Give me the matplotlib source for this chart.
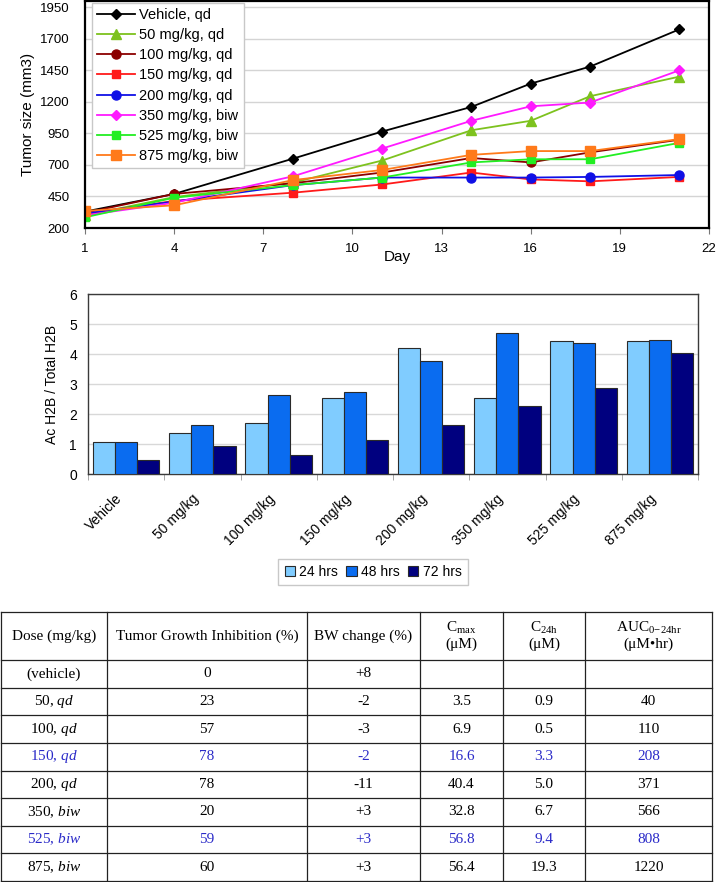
import matplotlib
matplotlib.use('Agg')
import matplotlib.pyplot as plt
import matplotlib.transforms as mtransforms
import numpy as np
from matplotlib.patches import Patch

plt.rcParams['font.family'] = ['Liberation Sans', 'DejaVu Sans']
plt.rcParams['mathtext.fontset'] = 'custom'
plt.rcParams['mathtext.rm'] = 'Liberation Serif'
plt.rcParams['mathtext.it'] = 'Liberation Serif:italic'

# ---------------- data: tumor growth ----------------
days = [1, 4, 8, 11, 14, 16, 18, 21]
vehicle = [330, 470, 750, 965, 1160, 1345, 1480, 1775]
mg50 = [300, 445, 560, 735, 975, 1050, 1245, 1400]
mg100 = [320, 470, 555, 640, 755, 720, 800, 900]
mg150 = [310, 415, 480, 545, 640, 585, 570, 605]
mg200 = [315, 410, 540, 600, 600, 600, 605, 620]
mg350 = [300, 400, 610, 830, 1050, 1165, 1195, 1450]
mg525 = [285, 440, 540, 600, 720, 745, 745, 875]
mg875 = [335, 380, 580, 660, 780, 810, 810, 905]
line_labels = ['Vehicle, qd', '50 mg/kg, qd', '100 mg/kg, qd', '150 mg/kg, qd',
               '200 mg/kg, qd', '350 mg/kg, biw', '525 mg/kg, biw', '875 mg/kg, biw']

# ---------------- data: acetylation ----------------
bar_categories = ['Vehicle', '50 mg/kg', '100 mg/kg', '150 mg/kg',
                  '200 mg/kg', '350 mg/kg', '525 mg/kg', '875 mg/kg']
h24 = [1.08, 1.36, 1.70, 2.53, 4.20, 2.53, 4.43, 4.43]
h48 = [1.08, 1.62, 2.63, 2.75, 3.77, 4.70, 4.37, 4.47]
h72 = [0.48, 0.93, 0.62, 1.13, 1.62, 2.27, 2.87, 4.03]
bar_labels = ['24 hrs', '48 hrs', '72 hrs']

# ---------------- data: table ----------------
dose_values = ['(vehicle)', '50', '100', '150', '200', '350', '525', '875']
schedules = ['', 'qd', 'qd', 'qd', 'qd', 'biw', 'biw', 'biw']
tgi = ['0', '23', '57', '78', '78', '20', '59', '60']
bw_change = ['+8', '-2', '-3', '-2', '-11', '+3', '+3', '+3']
cmax = ['', '3.5', '6.9', '16.6', '40.4', '32.8', '56.8', '56.4']
c24h = ['', '0.9', '0.5', '3.3', '5.0', '6.7', '9.4', '19.3']
auc = ['', '40', '110', '208', '371', '566', '808', '1220']
highlight = [False, False, False, True, False, False, True, False]

W, H = 717, 882
fig = plt.figure(figsize=(W / 100, H / 100), dpi=100)


def rect(l, t, r, b):
    return [l / W, 1 - b / H, (r - l) / W, (b - t) / H]


# ================= line chart =================
ax1 = fig.add_axes(rect(85, 1, 709, 228))
series = [vehicle, mg50, mg100, mg150, mg200, mg350, mg525, mg875]
colors = ['#000000', '#7DC21E', '#8B0000', '#FF1A1A', '#1010E6', '#FF1AFF', '#22EE22', '#FF7A1A']
markers = ['D', '^', 'o', 's', 'o', 'D', 's', 's']
msizes = [5.5, 7, 6.5, 6, 6.5, 5.5, 6, 7]
for vals, lab, c, m, ms in zip(series, line_labels, colors, markers, msizes):
    ax1.plot(days, vals, color=c, marker=m, ms=ms, mfc=c, mec=c, lw=1.3, label=lab)
ax1.set_xlim(1, 22)
ax1.set_ylim(200, 2000)
ax1.set_xticks(range(1, 23, 3))
ax1.set_yticks(range(200, 1951, 250))
ax1.grid(axis='y', color='#d4d4d4', lw=1)
ax1.set_axisbelow(True)
for s in ax1.spines.values():
    s.set_linewidth(1.6)
    s.set_color('black')
ax1.tick_params(axis='x', length=4, pad=7, labelsize=9.5, color='#777777')
ax1.tick_params(axis='y', length=0, pad=11, labelsize=9.5)
ax1.set_ylabel('Tumor size (mm3)', fontsize=11)
ax1.yaxis.set_label_coords(-0.080, 0.5)
ax1.set_xlabel('Day', fontsize=11)
ax1.xaxis.set_label_coords(0.5, -0.095)
leg = ax1.legend(loc='upper left', bbox_to_anchor=(7 / 624, 1 - 2 / 227), borderaxespad=0,
                 fontsize=10.5, frameon=True, fancybox=False, edgecolor='#c8c8c8',
                 framealpha=1, handlelength=2.6, handletextpad=0.3, labelspacing=0.42,
                 borderpad=0.35)
leg.get_frame().set_linewidth(1)

# ================= bar chart =================
ax2 = fig.add_axes(rect(88, 294, 698, 474))
x = np.arange(len(bar_categories))
w = 0.29
bar_colors = ['#80CCFF', '#0A6CF0', '#00007F']
for off, vals, c, lab in zip([-w, 0, w], [h24, h48, h72], bar_colors, bar_labels):
    ax2.bar(x + off, vals, w, color=c, edgecolor='#2a2a2a', lw=0.8, label=lab, zorder=3)
ax2.set_xlim(-0.5, len(bar_categories) - 0.5)
ax2.set_ylim(0, 6)
ax2.set_yticks(range(0, 7))
ax2.grid(axis='y', color='#d8d8d8', lw=1, zorder=0)
ax2.set_axisbelow(True)
ax2.set_xticks(x)
ax2.set_xticks(np.arange(-0.5, len(bar_categories)), minor=True)
ax2.tick_params(axis='x', which='major', length=0, pad=10, labelsize=10)
ax2.tick_params(axis='x', which='minor', length=4, color='#999999')
ax2.tick_params(axis='y', length=0, pad=8, labelsize=10)
ax2.set_xticklabels(bar_categories, rotation=45, ha='right', va='top', rotation_mode='anchor')
shift = mtransforms.ScaledTranslation(-11 / 100, -4 / 100, fig.dpi_scale_trans)
for lbl in ax2.get_xticklabels():
    lbl.set_transform(lbl.get_transform() + shift)
for s in ax2.spines.values():
    s.set_linewidth(1.0)
    s.set_color('#3a3a3a')
ax2.set_ylabel('Ac H2B / Total H2B', fontsize=10)
ax2.yaxis.set_label_coords(-0.048, 0.5)
handles = [Patch(facecolor=c, edgecolor='#2a2a2a', lw=0.8) for c in bar_colors]
leg2 = fig.legend(handles, bar_labels, loc='center', bbox_to_anchor=(373 / W, 1 - 572 / H),
                  ncol=3, fontsize=10, handlelength=0.75, handleheight=0.75,
                  handletextpad=0.3, columnspacing=0.6, fancybox=False,
                  edgecolor='#c8c8c8', borderpad=0.45, framealpha=1)
leg2.get_frame().set_linewidth(1)

# ================= table =================
tax = fig.add_axes([0, 0, 1, 1])
tax.set_xlim(0, W)
tax.set_ylim(H, 0)
tax.axis('off')
col_edges = [1, 107, 307, 420, 503, 585, 712]
top, head_bot, bottom = 612, 660, 881
nrows = len(dose_values)
row_h = (bottom - head_bot) / nrows
lc = '#222222'
for cx in col_edges:
    tax.plot([cx, cx], [top, bottom], color=lc, lw=0.9)
for ry in [top, head_bot] + [head_bot + row_h * (i + 1) for i in range(nrows)]:
    tax.plot([col_edges[0], col_edges[-1]], [ry, ry], color=lc, lw=0.9)

centers = [(col_edges[i] + col_edges[i + 1]) / 2 for i in range(len(col_edges) - 1)]
serif = 'Liberation Serif'
fs = 11
hy = (top + head_bot) / 2
tax.text(centers[0], hy, 'Dose (mg/kg)', ha='center', va='center', family=serif, fontsize=fs)
tax.text(centers[1], hy, 'Tumor Growth Inhibition (%)', ha='center', va='center', family=serif, fontsize=fs)
tax.text(centers[2], hy, 'BW change (%)', ha='center', va='center', family=serif, fontsize=fs)
head1 = [r'C$_{\mathrm{max}}$', r'C$_{\mathrm{24h}}$', r'AUC$_{\mathrm{0\!-\!24hr}}$']
head2 = ['(\u03bcM)', '(\u03bcM)', '(\u03bcM\u2022hr)']
for i, (a, b) in enumerate(zip(head1, head2)):
    tax.text(centers[3 + i], hy - 8, a, ha='center', va='center', family=serif, fontsize=fs)
    tax.text(centers[3 + i], hy + 8, b, ha='center', va='center', family=serif, fontsize=fs)

for r in range(nrows):
    cy = head_bot + row_h * (r + 0.5)
    color = '#2a2ac8' if highlight[r] else 'black'
    dose = dose_values[r] if not schedules[r] else dose_values[r] + r', $\mathit{' + schedules[r] + '}$'
    vals = [dose, tgi[r], bw_change[r], cmax[r], c24h[r], auc[r]]
    for c, v in enumerate(vals):
        if v:
            tax.text(centers[c], cy, v, ha='center', va='center', family=serif,
                     fontsize=fs, color=color)

fig.savefig('out.png', dpi=100)
